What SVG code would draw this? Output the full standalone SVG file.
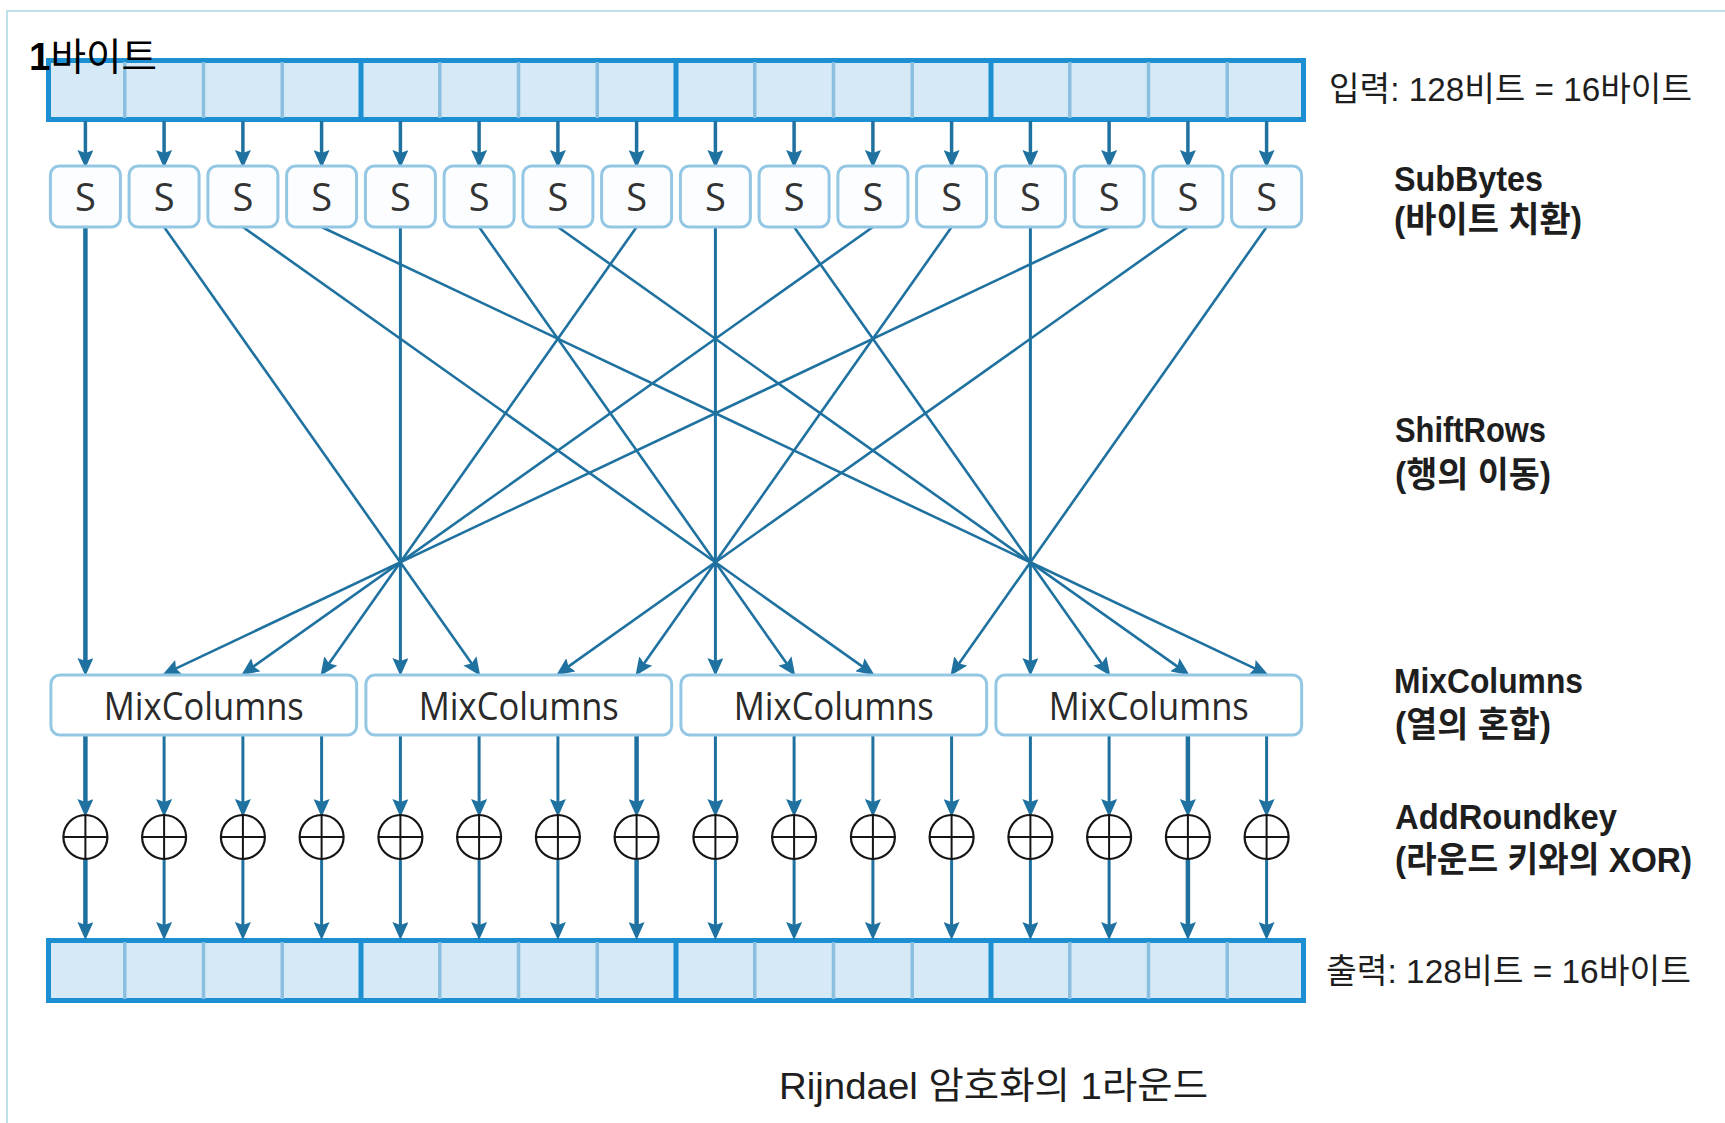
<svg xmlns="http://www.w3.org/2000/svg" width="1725" height="1123" viewBox="0 0 1725 1123">
  <style>
    .frame { fill: none; stroke: #bfe0e8; stroke-width: 2; }
    .bar { fill: #d5e9f6; stroke: #1b8fd2; stroke-width: 5; }
    .div-thin { stroke: #8bbfe0; stroke-width: 3.5; }
    .div-thick { stroke: #1b8fd2; stroke-width: 5; }
    .sbox { fill: #fbfdff; stroke: #94c7e3; stroke-width: 3; }
    .mix { fill: #ffffff; stroke: #94c7e3; stroke-width: 3; }
    .stxt { font-family: "Open Sans", "Noto Sans", sans-serif; font-size: 38px; fill: #333; text-anchor: middle; }
    .mtxt { font-family: "Open Sans", "Noto Sans", sans-serif; font-size: 38px; fill: #2a2a2a; text-anchor: middle; }
    .xor circle { fill: #ffffff; stroke: #151515; stroke-width: 2.2; }
    .xor path { stroke: #151515; stroke-width: 2; fill: none; }
    .conn line { stroke: #1f72a0; stroke-width: 3; marker-end: url(#head); }
    .conn line.diag { stroke-width: 2.6; }
    .conn line.thick { stroke-width: 4.5; }
    .conn line.top { stroke-width: 3.5; }
    .label { font-family: "Liberation Sans", "Noto Sans CJK KR", sans-serif; fill: #1e1e1e; }
    .stage { font-size: 35px; font-weight: bold; }
    .io { font-size: 34px; }
  </style>
  <defs>
    <marker id="head" viewBox="0 0 18 16" refX="8" refY="8" markerWidth="18" markerHeight="16" markerUnits="userSpaceOnUse" orient="auto">
      <path d="M0,0 L18,8 L0,16 L3,8 z" fill="#1f72a0"/>
    </marker>
  </defs>

  <rect width="1725" height="1123" fill="#ffffff"/>
  <rect class="frame" x="7" y="11" width="1740" height="1140"/>

  <!-- 128-bit input block -->
  <g id="input-bar">
    <rect class="bar" x="48.5" y="60.5" width="1255" height="59"/>
    <g class="div-thin">
      <line x1="124.75" y1="62" x2="124.75" y2="118"/><line x1="203.5" y1="62" x2="203.5" y2="118"/><line x1="282.25" y1="62" x2="282.25" y2="118"/>
      <line x1="439.75" y1="62" x2="439.75" y2="118"/><line x1="518.5" y1="62" x2="518.5" y2="118"/><line x1="597.25" y1="62" x2="597.25" y2="118"/>
      <line x1="754.75" y1="62" x2="754.75" y2="118"/><line x1="833.5" y1="62" x2="833.5" y2="118"/><line x1="912.25" y1="62" x2="912.25" y2="118"/>
      <line x1="1069.75" y1="62" x2="1069.75" y2="118"/><line x1="1148.5" y1="62" x2="1148.5" y2="118"/><line x1="1227.25" y1="62" x2="1227.25" y2="118"/>
    </g>
    <g class="div-thick">
      <line x1="361" y1="62" x2="361" y2="118"/><line x1="676" y1="62" x2="676" y2="118"/><line x1="991" y1="62" x2="991" y2="118"/>
    </g>
  </g>

  <!-- 128-bit output block -->
  <g id="output-bar">
    <rect class="bar" x="48.5" y="940.5" width="1255" height="60"/>
    <g class="div-thin">
      <line x1="124.75" y1="942" x2="124.75" y2="999"/><line x1="203.5" y1="942" x2="203.5" y2="999"/><line x1="282.25" y1="942" x2="282.25" y2="999"/>
      <line x1="439.75" y1="942" x2="439.75" y2="999"/><line x1="518.5" y1="942" x2="518.5" y2="999"/><line x1="597.25" y1="942" x2="597.25" y2="999"/>
      <line x1="754.75" y1="942" x2="754.75" y2="999"/><line x1="833.5" y1="942" x2="833.5" y2="999"/><line x1="912.25" y1="942" x2="912.25" y2="999"/>
      <line x1="1069.75" y1="942" x2="1069.75" y2="999"/><line x1="1148.5" y1="942" x2="1148.5" y2="999"/><line x1="1227.25" y1="942" x2="1227.25" y2="999"/>
    </g>
    <g class="div-thick">
      <line x1="361" y1="942" x2="361" y2="999"/><line x1="676" y1="942" x2="676" y2="999"/><line x1="991" y1="942" x2="991" y2="999"/>
    </g>
  </g>

  <!-- connectors: input -> S, ShiftRows wiring, MixColumns -> XOR -> output -->
  <g id="connectors" class="conn">
    <g id="to-sbox">
      <line class="top" x1="85.4" y1="121" x2="85.4" y2="158"/>
      <line class="top" x1="164.1" y1="121" x2="164.1" y2="158"/>
      <line class="top" x1="242.9" y1="121" x2="242.9" y2="158"/>
      <line class="top" x1="321.6" y1="121" x2="321.6" y2="158"/>
      <line class="top" x1="400.4" y1="121" x2="400.4" y2="158"/>
      <line class="top" x1="479.1" y1="121" x2="479.1" y2="158"/>
      <line class="top" x1="557.9" y1="121" x2="557.9" y2="158"/>
      <line class="top" x1="636.6" y1="121" x2="636.6" y2="158"/>
      <line class="top" x1="715.4" y1="121" x2="715.4" y2="158"/>
      <line class="top" x1="794.1" y1="121" x2="794.1" y2="158"/>
      <line class="top" x1="872.9" y1="121" x2="872.9" y2="158"/>
      <line class="top" x1="951.6" y1="121" x2="951.6" y2="158"/>
      <line class="top" x1="1030.4" y1="121" x2="1030.4" y2="158"/>
      <line class="top" x1="1109.1" y1="121" x2="1109.1" y2="158"/>
      <line class="top" x1="1187.9" y1="121" x2="1187.9" y2="158"/>
      <line class="top" x1="1266.6" y1="121" x2="1266.6" y2="158"/>
    </g>
    <g id="shift-rows">
      <line class="thick" x1="85.4" y1="227" x2="85.4" y2="666"/>
      <line class="diag" x1="164.1" y1="227" x2="474.5" y2="667.5"/>
      <line class="diag" x1="242.9" y1="227" x2="866.4" y2="669.4"/>
      <line class="diag" x1="321.6" y1="227" x2="1259.4" y2="670.6"/>
      <line x1="400.4" y1="227" x2="400.4" y2="666"/>
      <line class="diag" x1="479.1" y1="227" x2="789.5" y2="667.5"/>
      <line class="diag" x1="557.9" y1="227" x2="1181.4" y2="669.4"/>
      <line class="diag" x1="636.6" y1="227" x2="326.2" y2="667.5"/>
      <line x1="715.4" y1="227" x2="715.4" y2="666"/>
      <line class="diag" x1="794.1" y1="227" x2="1104.5" y2="667.5"/>
      <line class="diag" x1="872.9" y1="227" x2="249.4" y2="669.4"/>
      <line class="diag" x1="951.6" y1="227" x2="641.2" y2="667.5"/>
      <line x1="1030.4" y1="227" x2="1030.4" y2="666"/>
      <line class="diag" x1="1109.1" y1="227" x2="171.4" y2="670.6"/>
      <line class="diag" x1="1187.9" y1="227" x2="564.4" y2="669.4"/>
      <line class="diag" x1="1266.6" y1="227" x2="956.2" y2="667.5"/>
    </g>
    <g id="to-xor">
      <line class="thick" x1="85.4" y1="735" x2="85.4" y2="807"/>
      <line x1="164.1" y1="735" x2="164.1" y2="807"/>
      <line x1="242.9" y1="735" x2="242.9" y2="807"/>
      <line x1="321.6" y1="735" x2="321.6" y2="807"/>
      <line x1="400.4" y1="735" x2="400.4" y2="807"/>
      <line x1="479.1" y1="735" x2="479.1" y2="807"/>
      <line x1="557.9" y1="735" x2="557.9" y2="807"/>
      <line class="thick" x1="636.6" y1="735" x2="636.6" y2="807"/>
      <line x1="715.4" y1="735" x2="715.4" y2="807"/>
      <line x1="794.1" y1="735" x2="794.1" y2="807"/>
      <line x1="872.9" y1="735" x2="872.9" y2="807"/>
      <line x1="951.6" y1="735" x2="951.6" y2="807"/>
      <line x1="1030.4" y1="735" x2="1030.4" y2="807"/>
      <line x1="1109.1" y1="735" x2="1109.1" y2="807"/>
      <line class="thick" x1="1187.9" y1="735" x2="1187.9" y2="807"/>
      <line x1="1266.6" y1="735" x2="1266.6" y2="807"/>
    </g>
    <g id="to-output">
      <line class="thick" x1="85.4" y1="859" x2="85.4" y2="930"/>
      <line x1="164.1" y1="859" x2="164.1" y2="930"/>
      <line x1="242.9" y1="859" x2="242.9" y2="930"/>
      <line x1="321.6" y1="859" x2="321.6" y2="930"/>
      <line x1="400.4" y1="859" x2="400.4" y2="930"/>
      <line x1="479.1" y1="859" x2="479.1" y2="930"/>
      <line x1="557.9" y1="859" x2="557.9" y2="930"/>
      <line class="thick" x1="636.6" y1="859" x2="636.6" y2="930"/>
      <line x1="715.4" y1="859" x2="715.4" y2="930"/>
      <line x1="794.1" y1="859" x2="794.1" y2="930"/>
      <line x1="872.9" y1="859" x2="872.9" y2="930"/>
      <line x1="951.6" y1="859" x2="951.6" y2="930"/>
      <line x1="1030.4" y1="859" x2="1030.4" y2="930"/>
      <line x1="1109.1" y1="859" x2="1109.1" y2="930"/>
      <line class="thick" x1="1187.9" y1="859" x2="1187.9" y2="930"/>
      <line x1="1266.6" y1="859" x2="1266.6" y2="930"/>
    </g>
  </g>

  <!-- S-boxes -->
  <g id="sbox-0"><rect class="sbox" x="50.4" y="166" width="70" height="61" rx="9"/><text class="stxt" x="85.4" y="211">S</text></g>
  <g id="sbox-1"><rect class="sbox" x="129.1" y="166" width="70" height="61" rx="9"/><text class="stxt" x="164.1" y="211">S</text></g>
  <g id="sbox-2"><rect class="sbox" x="207.9" y="166" width="70" height="61" rx="9"/><text class="stxt" x="242.9" y="211">S</text></g>
  <g id="sbox-3"><rect class="sbox" x="286.6" y="166" width="70" height="61" rx="9"/><text class="stxt" x="321.6" y="211">S</text></g>
  <g id="sbox-4"><rect class="sbox" x="365.4" y="166" width="70" height="61" rx="9"/><text class="stxt" x="400.4" y="211">S</text></g>
  <g id="sbox-5"><rect class="sbox" x="444.1" y="166" width="70" height="61" rx="9"/><text class="stxt" x="479.1" y="211">S</text></g>
  <g id="sbox-6"><rect class="sbox" x="522.9" y="166" width="70" height="61" rx="9"/><text class="stxt" x="557.9" y="211">S</text></g>
  <g id="sbox-7"><rect class="sbox" x="601.6" y="166" width="70" height="61" rx="9"/><text class="stxt" x="636.6" y="211">S</text></g>
  <g id="sbox-8"><rect class="sbox" x="680.4" y="166" width="70" height="61" rx="9"/><text class="stxt" x="715.4" y="211">S</text></g>
  <g id="sbox-9"><rect class="sbox" x="759.1" y="166" width="70" height="61" rx="9"/><text class="stxt" x="794.1" y="211">S</text></g>
  <g id="sbox-10"><rect class="sbox" x="837.9" y="166" width="70" height="61" rx="9"/><text class="stxt" x="872.9" y="211">S</text></g>
  <g id="sbox-11"><rect class="sbox" x="916.6" y="166" width="70" height="61" rx="9"/><text class="stxt" x="951.6" y="211">S</text></g>
  <g id="sbox-12"><rect class="sbox" x="995.4" y="166" width="70" height="61" rx="9"/><text class="stxt" x="1030.4" y="211">S</text></g>
  <g id="sbox-13"><rect class="sbox" x="1074.1" y="166" width="70" height="61" rx="9"/><text class="stxt" x="1109.1" y="211">S</text></g>
  <g id="sbox-14"><rect class="sbox" x="1152.9" y="166" width="70" height="61" rx="9"/><text class="stxt" x="1187.9" y="211">S</text></g>
  <g id="sbox-15"><rect class="sbox" x="1231.6" y="166" width="70" height="61" rx="9"/><text class="stxt" x="1266.6" y="211">S</text></g>

  <!-- MixColumns blocks -->
  <g id="mix-0"><rect class="mix" x="50.9" y="675" width="305.75" height="60" rx="9"/><text class="mtxt" x="203.8" y="720" textLength="200" lengthAdjust="spacingAndGlyphs">MixColumns</text></g>
  <g id="mix-1"><rect class="mix" x="365.9" y="675" width="305.75" height="60" rx="9"/><text class="mtxt" x="518.8" y="720" textLength="200" lengthAdjust="spacingAndGlyphs">MixColumns</text></g>
  <g id="mix-2"><rect class="mix" x="680.9" y="675" width="305.75" height="60" rx="9"/><text class="mtxt" x="833.8" y="720" textLength="200" lengthAdjust="spacingAndGlyphs">MixColumns</text></g>
  <g id="mix-3"><rect class="mix" x="995.9" y="675" width="305.75" height="60" rx="9"/><text class="mtxt" x="1148.8" y="720" textLength="200" lengthAdjust="spacingAndGlyphs">MixColumns</text></g>

  <!-- AddRoundKey XOR nodes -->
  <g id="xor-0" class="xor"><circle cx="85.4" cy="837" r="22"/><path d="M63.4,837 H107.4 M85.4,815 V859"/></g>
  <g id="xor-1" class="xor"><circle cx="164.1" cy="837" r="22"/><path d="M142.1,837 H186.1 M164.1,815 V859"/></g>
  <g id="xor-2" class="xor"><circle cx="242.9" cy="837" r="22"/><path d="M220.9,837 H264.9 M242.9,815 V859"/></g>
  <g id="xor-3" class="xor"><circle cx="321.6" cy="837" r="22"/><path d="M299.6,837 H343.6 M321.6,815 V859"/></g>
  <g id="xor-4" class="xor"><circle cx="400.4" cy="837" r="22"/><path d="M378.4,837 H422.4 M400.4,815 V859"/></g>
  <g id="xor-5" class="xor"><circle cx="479.1" cy="837" r="22"/><path d="M457.1,837 H501.1 M479.1,815 V859"/></g>
  <g id="xor-6" class="xor"><circle cx="557.9" cy="837" r="22"/><path d="M535.9,837 H579.9 M557.9,815 V859"/></g>
  <g id="xor-7" class="xor"><circle cx="636.6" cy="837" r="22"/><path d="M614.6,837 H658.6 M636.6,815 V859"/></g>
  <g id="xor-8" class="xor"><circle cx="715.4" cy="837" r="22"/><path d="M693.4,837 H737.4 M715.4,815 V859"/></g>
  <g id="xor-9" class="xor"><circle cx="794.1" cy="837" r="22"/><path d="M772.1,837 H816.1 M794.1,815 V859"/></g>
  <g id="xor-10" class="xor"><circle cx="872.9" cy="837" r="22"/><path d="M850.9,837 H894.9 M872.9,815 V859"/></g>
  <g id="xor-11" class="xor"><circle cx="951.6" cy="837" r="22"/><path d="M929.6,837 H973.6 M951.6,815 V859"/></g>
  <g id="xor-12" class="xor"><circle cx="1030.4" cy="837" r="22"/><path d="M1008.4,837 H1052.4 M1030.4,815 V859"/></g>
  <g id="xor-13" class="xor"><circle cx="1109.1" cy="837" r="22"/><path d="M1087.1,837 H1131.1 M1109.1,815 V859"/></g>
  <g id="xor-14" class="xor"><circle cx="1187.9" cy="837" r="22"/><path d="M1165.9,837 H1209.9 M1187.9,815 V859"/></g>
  <g id="xor-15" class="xor"><circle cx="1266.6" cy="837" r="22"/><path d="M1244.6,837 H1288.6 M1266.6,815 V859"/></g>

  <!-- labels -->
  <g id="labels" class="label">
    <text x="29" y="70" font-size="38" fill="#000" textLength="128" lengthAdjust="spacingAndGlyphs"><tspan font-weight="bold">1</tspan>바이트</text>
    <text class="io" x="1329" y="101" textLength="363" lengthAdjust="spacingAndGlyphs">입력: 128비트 = 16바이트</text>
    <text class="stage" x="1394" y="191" textLength="149" lengthAdjust="spacingAndGlyphs">SubBytes</text>
    <text class="stage" x="1394" y="232" textLength="188" lengthAdjust="spacingAndGlyphs">(바이트 치환)</text>
    <text class="stage" x="1395" y="442" textLength="151" lengthAdjust="spacingAndGlyphs">ShiftRows</text>
    <text class="stage" x="1395" y="487" textLength="156" lengthAdjust="spacingAndGlyphs">(행의 이동)</text>
    <text class="stage" x="1394" y="693" textLength="189" lengthAdjust="spacingAndGlyphs">MixColumns</text>
    <text class="stage" x="1395" y="737" textLength="156" lengthAdjust="spacingAndGlyphs">(열의 혼합)</text>
    <text class="stage" x="1395" y="829" textLength="222" lengthAdjust="spacingAndGlyphs">AddRoundkey</text>
    <text class="stage" x="1395" y="872" textLength="297" lengthAdjust="spacingAndGlyphs">(라운드 키와의 XOR)</text>
    <text class="io" x="1326" y="983" textLength="365" lengthAdjust="spacingAndGlyphs">출력: 128비트 = 16바이트</text>
    <text x="779" y="1099" font-size="37" textLength="429" lengthAdjust="spacingAndGlyphs">Rijndael 암호화의 1라운드</text>
  </g>
</svg>
